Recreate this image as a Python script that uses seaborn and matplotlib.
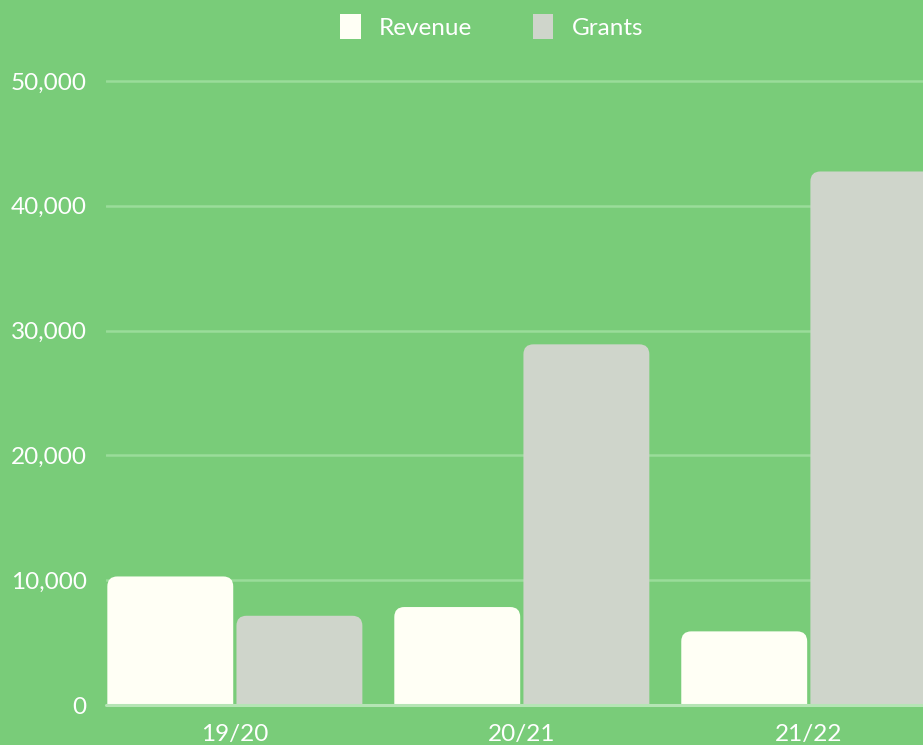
import pandas as pd
import matplotlib.pyplot as plt
import seaborn as sns
from matplotlib.patches import FancyBboxPatch, Patch
from matplotlib.ticker import FuncFormatter

# values
years = ["19/20", "20/21", "21/22"]
revenue = [10300, 7850, 5900]
grants = [7150, 28900, 42750]
series = ["Revenue", "Grants"]
colors = ["#FFFFF5", "#CFD5CB"]

BG = "#79CC79"
GRID = "#9ADC9A"
TEXT = "#FFFFFF"

df = pd.DataFrame({
    "year": years * 2,
    "value": revenue + grants,
    "series": [series[0]] * len(years) + [series[1]] * len(years),
})

sns.set_theme(style="white")
plt.rcParams["font.family"] = ["Lato", "DejaVu Sans"]

fig = plt.figure(figsize=(9.23, 7.45), dpi=100, facecolor=BG)
ax = fig.add_axes([106 / 923, 40 / 745, 1 - 106 / 923, 630.24 / 745])
ax.set_facecolor(BG)

sns.barplot(data=df, x="year", y="value", hue="series", hue_order=series,
            palette=colors, width=0.9, gap=0.025, legend=False, ax=ax,
            saturation=1, edgecolor="none", zorder=2)

ax.set_xlim(-0.449, 2.398)
ax.set_ylim(0, 50500)
ax.set_yticks(range(0, 50001, 10000))
ax.yaxis.set_major_formatter(FuncFormatter(lambda v, p: f"{int(v):,}"))
ax.yaxis.grid(True, color=GRID, linewidth=1.8, zorder=0)
ax.set_axisbelow(True)
for s in ax.spines.values():
    s.set_visible(False)
ax.axhline(0, color="#B5E5B5", linewidth=2.2, zorder=3, clip_on=False)

ax.set_xlabel("")
ax.set_ylabel("")
ax.tick_params(axis="both", length=0, colors=TEXT, labelsize=17.5)
ax.tick_params(axis="y", pad=14)
ax.tick_params(axis="x", pad=14)

# round the top corners of the bars
fig.canvas.draw()
o = ax.transData.transform((0, 0))
px_x = ax.transData.transform((1, 0))[0] - o[0]
px_y = ax.transData.transform((0, 1))[1] - o[1]
rx, ry = 10 / px_x, 10 / px_y
for p in list(ax.patches):
    x, w, h = p.get_x(), p.get_width(), p.get_height()
    fc = p.get_facecolor()
    p.remove()
    ax.add_patch(FancyBboxPatch((x, -ry), w, h + ry,
                                boxstyle=f"round,pad=0,rounding_size={rx}",
                                mutation_aspect=ry / rx, fc=fc, ec="none",
                                zorder=2))

handles = [Patch(facecolor=c, edgecolor="none") for c in colors]
leg = fig.legend(handles, series, loc="upper center", bbox_to_anchor=(0.5325, 1.01),
                 ncol=2, frameon=False, handlelength=0.85, handleheight=1.15,
                 handletextpad=0.75, columnspacing=2.5, fontsize=17.5)
for t in leg.get_texts():
    t.set_color(TEXT)

fig.savefig("out.png", dpi=100, facecolor=BG)
